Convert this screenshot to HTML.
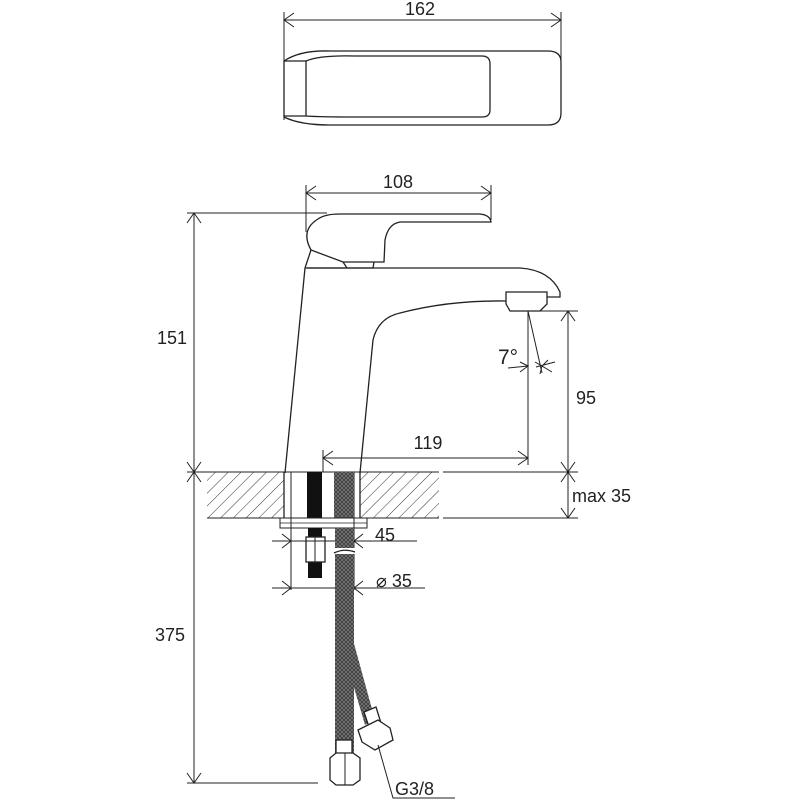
<!DOCTYPE html>
<html><head><meta charset="utf-8"><style>
html,body{margin:0;padding:0;background:#fff}
svg{display:block}
text{font-family:"Liberation Sans",Arial,sans-serif;fill:#222}
</style></head><body>
<svg width="800" height="800" viewBox="0 0 800 800" xmlns="http://www.w3.org/2000/svg">
<defs>
<pattern id="hatch" width="9" height="9" patternUnits="userSpaceOnUse" patternTransform="rotate(45)">
<line x1="0" y1="0" x2="0" y2="9" stroke="#333" stroke-width="1"/>
</pattern>
<pattern id="braid" width="4" height="4" patternUnits="userSpaceOnUse">
<rect width="4" height="4" fill="#777"/>
<path d="M0 0L4 4M4 0L0 4" stroke="#333" stroke-width="0.7"/>
</pattern>
</defs>
<g fill="none" stroke="#222" stroke-width="1.3">
<!-- top view -->
<line x1="284" y1="20" x2="561" y2="20" stroke-width="1"/>
<path d="M294 13L284 20L294 27M551 13L561 20L551 27" stroke-width="1"/>
<line x1="284" y1="12" x2="284" y2="120" stroke-width="1"/>
<line x1="561" y1="12" x2="561" y2="60" stroke-width="1"/>
<path d="M284 61Q300 50 330 51L548 51Q561 51 561 62L561 113Q561 125 548 125L330 125Q300 125 284 117Z"/>
<path d="M306 61L306 116"/>
<path d="M306 61Q320 55 355 56L482 56Q490 56 490 64L490 110Q490 117 482 117L355 117Q320 117 306 116"/>
<path d="M284 61L306 61M284 116L306 116"/>
<!-- 108 dim -->
<line x1="306" y1="193" x2="491" y2="193" stroke-width="1"/>
<path d="M316 186L306 193L316 200M481 186L491 193L481 200" stroke-width="1"/>
<line x1="306" y1="185" x2="306" y2="232" stroke-width="1"/>
<line x1="491" y1="185" x2="491" y2="220" stroke-width="1"/>
<!-- 151 dim -->
<line x1="187" y1="213" x2="327" y2="213" stroke-width="1"/>
<line x1="194" y1="213" x2="194" y2="783" stroke-width="1"/>
<path d="M187 223L194 213L201 223M187 462L194 472L201 462M187 482L194 472L201 482M187 773L194 783L201 773" stroke-width="1"/>
<line x1="187" y1="472" x2="207" y2="472" stroke-width="1"/>
<line x1="187" y1="783" x2="318" y2="783" stroke-width="1"/>
<!-- handle -->
<path d="M311 250Q300 230 318 219Q325 214 340 214L480 214Q490 215 491 222L400 222Q388 224 385 240L384 262L343 262L311 250Z"/>
<path d="M311 250L305 268M343 262L347 268"/>
<path d="M307 268L373 268L374 262"/>
<!-- body -->
<path d="M305 268L520 268Q550 270 560 292L560 297L547 297"/>
<path d="M285 473L305 268"/>
<path d="M360 473L373 340Q378 318 400 313Q450 300 506 301"/>
<path d="M506 292L547 292L547 304L540 311L510 311L506 304Z"/>
<!-- 7 deg -->
<line x1="528" y1="311" x2="528" y2="465" stroke-width="1"/>
<line x1="528" y1="311" x2="542" y2="373" stroke-width="1"/>
<path d="M508 368L528 366M536 367L555 362M520 362L528 366L520 372M548 360L542 366L552 372M535 362L542 366L540 374" stroke-width="1"/>
<!-- 95 dim -->
<line x1="528" y1="311" x2="578" y2="311" stroke-width="1"/>
<line x1="568" y1="311" x2="568" y2="518" stroke-width="1"/>
<path d="M561 321L568 311L575 321M561 462L568 472L575 462M561 482L568 472L575 482M561 508L568 518L575 508" stroke-width="1"/>
<!-- 119 -->
<line x1="323" y1="458" x2="528" y2="458" stroke-width="1"/>
<line x1="323" y1="450" x2="323" y2="472" stroke-width="1"/>
<path d="M333 451L323 458L333 465M518 451L528 458L518 465" stroke-width="1"/>
<!-- counter -->
<rect x="207" y="472" width="77" height="46" fill="url(#hatch)" stroke="none"/>
<rect x="360" y="472" width="79" height="46" fill="url(#hatch)" stroke="none"/>
<line x1="194" y1="472" x2="439" y2="472" stroke-width="1"/>
<line x1="207" y1="518" x2="439" y2="518" stroke-width="1"/>
<line x1="443" y1="472" x2="578" y2="472" stroke-width="1"/>
<line x1="443" y1="518" x2="578" y2="518" stroke-width="1"/>
<line x1="284" y1="472" x2="284" y2="518"/>
<line x1="291" y1="472" x2="291" y2="590" stroke-width="1"/>
<line x1="360" y1="472" x2="360" y2="518"/>
<line x1="354" y1="472" x2="354" y2="590" stroke-width="1"/>
<rect x="307" y="472" width="15" height="46" fill="#111" stroke="none"/>
<rect x="334" y="472" width="20" height="46" fill="url(#braid)" stroke="none"/>
<!-- washer -->
<rect x="280" y="518" width="87" height="10" stroke-width="1"/>
<line x1="280" y1="523" x2="367" y2="523" stroke-width="0.8"/>
<!-- bolt -->
<rect x="308" y="528" width="14" height="50" fill="#111" stroke="none"/>
<rect x="306" y="537" width="19" height="25" fill="#fff"/>
<line x1="315" y1="537" x2="315" y2="562" stroke-width="1"/>
<!-- 45 / 35 -->
<line x1="272" y1="541" x2="417" y2="541" stroke-width="1"/>
<path d="M282 534L291 541L282 548M363 534L354 541L363 548" stroke-width="1"/>
<line x1="272" y1="588" x2="425" y2="588" stroke-width="1"/>
<path d="M282 581L291 588L282 595M363 581L354 588L363 595" stroke-width="1"/>
<!-- hoses -->
<path d="M353 640L375 720L365 725L346 660Z" fill="url(#braid)" stroke="none"/>
<rect x="335" y="528" width="19" height="225" fill="url(#braid)" stroke="none"/>
<rect x="334" y="548" width="22" height="6" fill="#fff" stroke="none"/>
<path d="M334 553Q344 548 355 552"/>
<rect x="336" y="740" width="16" height="14" fill="#fff"/>
<path d="M330 758L336 753L353 753L360 758L360 780L353 785L336 785L330 780Z" fill="#fff"/>
<line x1="345" y1="753" x2="345" y2="785" stroke-width="1"/>
<path d="M364 712L376 707L381 723L369 727Z" fill="#fff"/>
<path d="M358 730L378 720L390 728L393 740L375 750L362 742Z" fill="#fff"/>
<path d="M378 745L393 798L455 798" stroke-width="1"/>
</g>
<g font-size="18">
<text x="420" y="15" text-anchor="middle">162</text>
<text x="398" y="188" text-anchor="middle">108</text>
<text x="172" y="344" text-anchor="middle">151</text>
<text x="586" y="404" text-anchor="middle">95</text>
<text x="428" y="449" text-anchor="middle">119</text>
<text x="572" y="502">max 35</text>
<text x="375" y="541">45</text>
<text x="376" y="587">⌀ 35</text>
<text x="170" y="641" text-anchor="middle">375</text>
<text x="395" y="795">G3/8</text>
<text x="498" y="364" font-size="21">7°</text>
</g>
</svg>
</body></html>
